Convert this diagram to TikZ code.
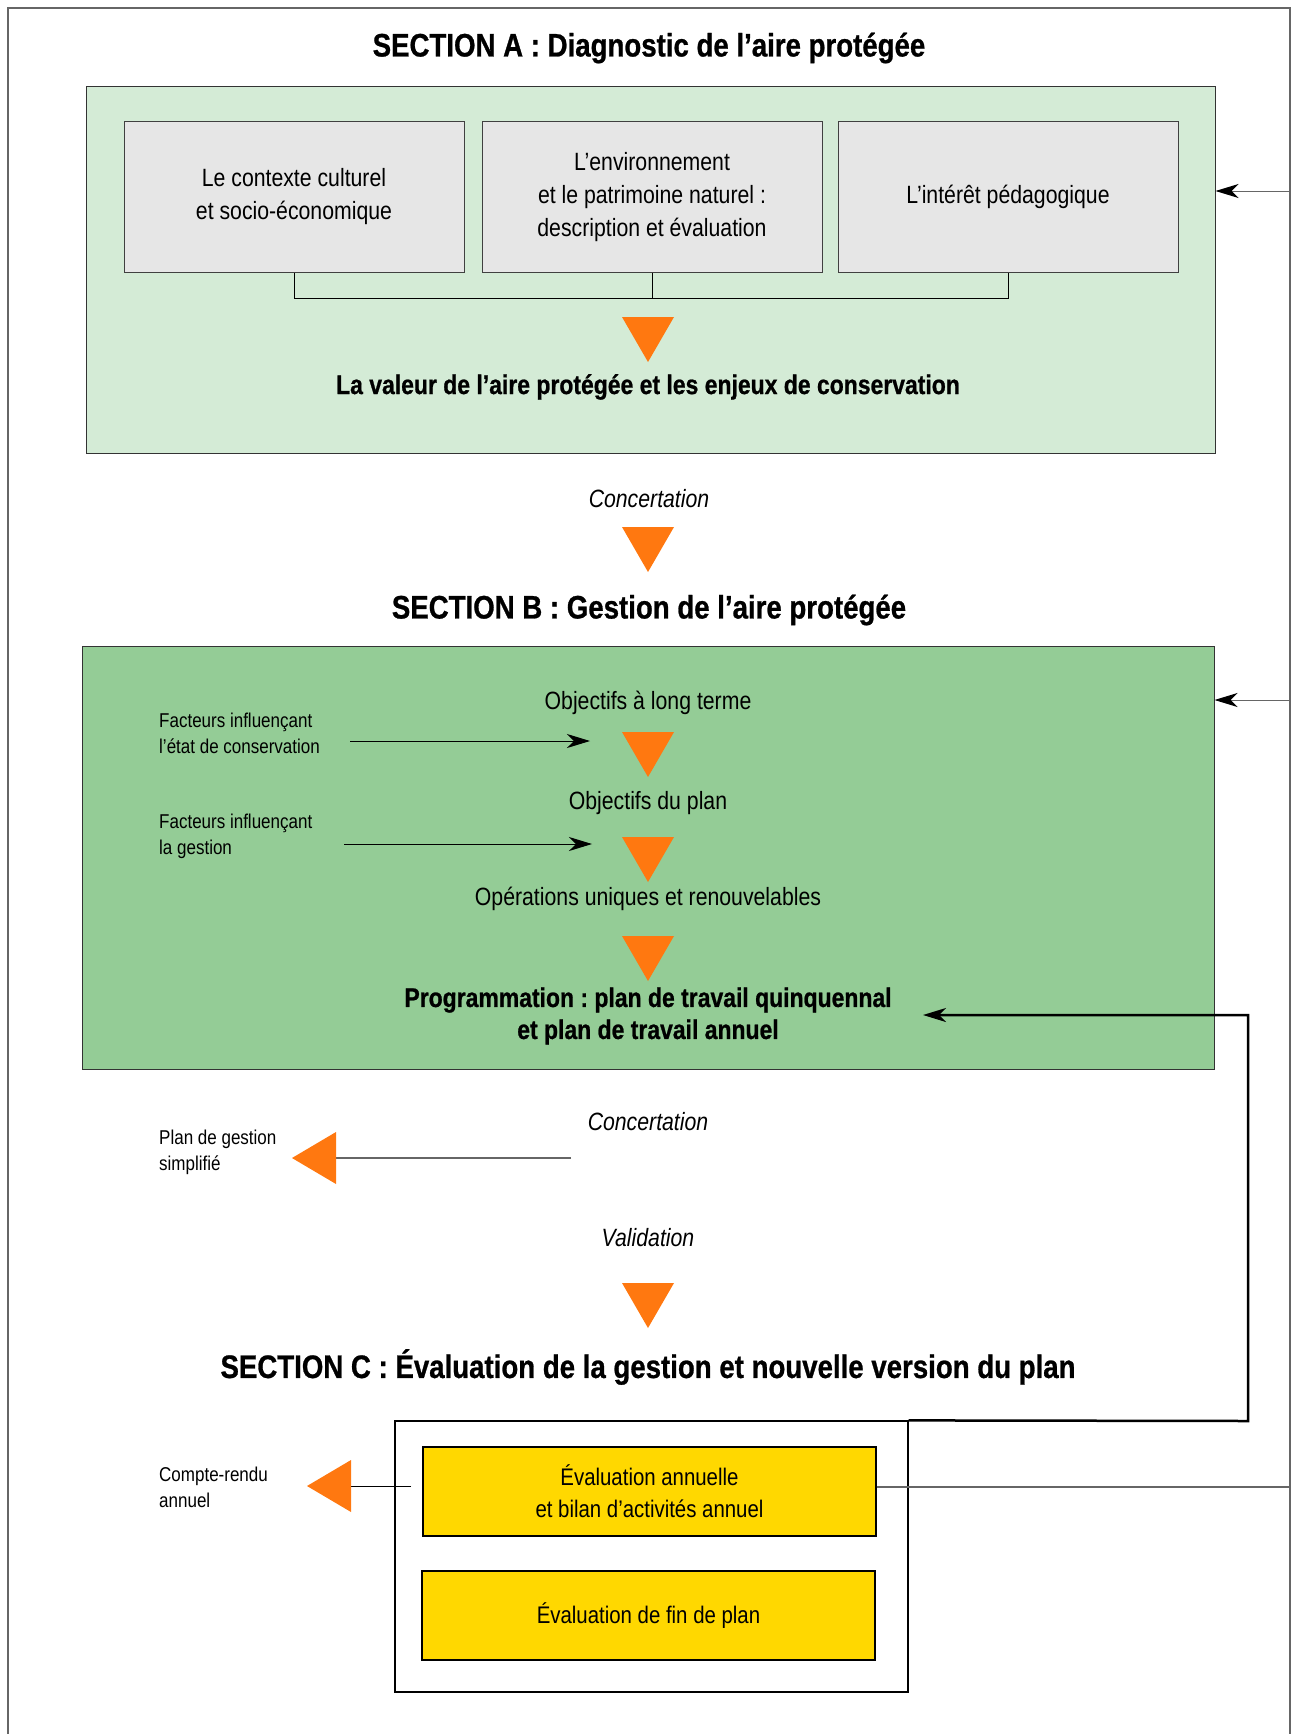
\documentclass[tikz,border=0pt]{standalone}
\usepackage{fontspec}
\setmainfont[FakeStretch=0.85, BoldFeatures={FakeBold=0.8}]{Liberation Sans}
\usepackage{tikz}
\usetikzlibrary{arrows.meta}
\frenchspacing

\definecolor{diag}{RGB}{212,235,214}
\definecolor{gest}{RGB}{148,204,150}
\definecolor{gris}{RGB}{230,230,230}
\definecolor{jaune}{RGB}{255,216,0}
\definecolor{orangef}{RGB}{255,120,16}

\begin{document}
\begin{tikzpicture}[x=1pt, y=-1pt,
  every node/.style = {inner sep=0pt, align=center},
  titre/.style = {font=\fontsize{32.5}{38}\selectfont\bfseries},
  grisbox/.style = {draw=black!75, line width=1pt, fill=gris,
    minimum width=340pt, minimum height=150pt, font=\fontsize{25}{33}\selectfont},
  jaunebox/.style = {draw=black, line width=1.2pt, fill=jaune,
    minimum width=453pt, minimum height=89pt, font=\fontsize{24}{32}\selectfont},
  etape/.style = {font=\fontsize{25}{32}\selectfont},
  etapegras/.style = {font=\fontsize{27}{32}\selectfont\bfseries},
  concert/.style = {font=\fontsize{25}{28}\selectfont\itshape},
  petit/.style = {anchor=west, align=left, font=\fontsize{20}{26}\selectfont},
  fleche/.style = {line width=1pt, -{Stealth[length=23pt, width=14pt, inset=7pt, color=black]}},
  trait/.style = {line width=1.2pt, draw=black!60},
  retour/.style = {line width=2.5pt, -{Stealth[length=23pt, width=14pt, inset=7pt]}},
  bas/.pic = {\fill[orangef] (-26,0) -- (26,0) -- (0,45) -- cycle;},
  gauche/.pic = {\fill[orangef] (0,0) -- (44,-26) -- (44,26) -- cycle;}]
  \useasboundingbox (0,0) rectangle (1292,1734);
  \draw[trait] (8,1734) |- (1290,8) -- (1290,1734);

  % section A
  \node[titre] (titreA) at (649,48) {SECTION A : Diagnostic de l’aire protégée};
  \node[draw=black!80, line width=1pt, fill=diag, minimum width=1129pt,
    minimum height=366pt] (secA) at (650.5,270) {};
  \node[grisbox] (contexte) at (294,197) {Le contexte culturel\\et socio-économique};
  \node[grisbox] (environ) at (652,197) {L’environnement\\et le patrimoine naturel :\\description et évaluation};
  \node[grisbox] (interet) at (1008,197) {L’intérêt pédagogique};
  \draw[line width=1pt] (contexte.south) -- ++(0,26) -| (interet.south);
  \draw[line width=1pt] (environ.south) -- ++(0,26);
  \pic at (648,317) {bas};
  \node[etapegras] (valeur) at (648,387) {La valeur de l’aire protégée et les enjeux de conservation};
  \node[concert] (concA) at (649,499) {Concertation};
  \pic at (648,527) {bas};

  % section B
  \node[titre] (titreB) at (649,610) {SECTION B : Gestion de l’aire protégée};
  \node[draw=black!80, line width=1pt, fill=gest, minimum width=1132pt,
    minimum height=423pt] (secB) at (648,857.5) {};
  \node[etape] (objlt) at (648,703) {Objectifs à long terme};
  \pic at (648,732) {bas};
  \node[etape] (objplan) at (648,803) {Objectifs du plan};
  \pic at (648,837) {bas};
  \node[etape] (operations) at (648,899) {Opérations uniques et renouvelables};
  \pic at (648,936) {bas};
  \node[etapegras] (prog) at (648,1016) {Programmation : plan de travail quinquennal\\et plan de travail annuel};
  \node[petit] (facteurs1) at (159,733) {Facteurs influençant\\l’état de conservation};
  \node[petit] (facteurs2) at (159,836) {Facteurs influençant\\la gestion};
  \coordinate (f1a) at (350,741);
  \coordinate (f1b) at (590,741);
  \coordinate (f2a) at (344,844);
  \coordinate (f2b) at (592,844);
  \draw[fleche] (f1a) -- (f1b);
  \draw[fleche] (f2a) -- (f2b);

  \node[concert] (concB) at (648,1122) {Concertation};
  \node[petit] (simplifie) at (159,1152) {Plan de gestion\\simplifié};
  \coordinate (sa) at (571,1158);
  \coordinate (sb) at (336,1158);
  \draw[trait] (sa) -- (sb);
  \pic at (292,1158) {gauche};
  \node[concert] (valid) at (648,1238) {Validation};
  \pic at (648,1283) {bas};

  % section C
  \node[titre] (titreC) at (648,1367) {SECTION C : Évaluation de la gestion et nouvelle version du plan};
  \node[draw=black, line width=1.2pt, fill=white, minimum width=513pt,
    minimum height=271pt] (secC) at (651.5,1556.5) {};
  \node[jaunebox] (evalann) at (649.5,1491.5) {Évaluation annuelle\\et bilan d’activités annuel};
  \node[jaunebox] (evalfin) at (648.5,1615.5) {Évaluation de fin de plan};
  \node[petit] (compte) at (159,1487) {Compte-rendu\\annuel};
  \coordinate (ca) at (411,1486);
  \coordinate (cb) at (351,1486);
  \draw[line width=1pt] (ca) -- (cb);
  \pic at (307,1486) {gauche};

  % retours
  \coordinate (droite) at (1290,1487);
  \draw[trait] (evalann.east |- droite) -- (droite);
  \coordinate (ra) at (1290,191);
  \coordinate (rb) at (1290,700);
  \draw[fleche, draw=black!60] (ra) -- (secA.east |- ra);
  \draw[fleche, draw=black!60] (rb) -- (secB.east |- rb);
  \coordinate (coin) at (1248,1421);
  \coordinate (progfin) at (923,1015);
  \draw[retour] (secC.north east) -- (coin) |- (progfin);
\end{tikzpicture}
\end{document}
